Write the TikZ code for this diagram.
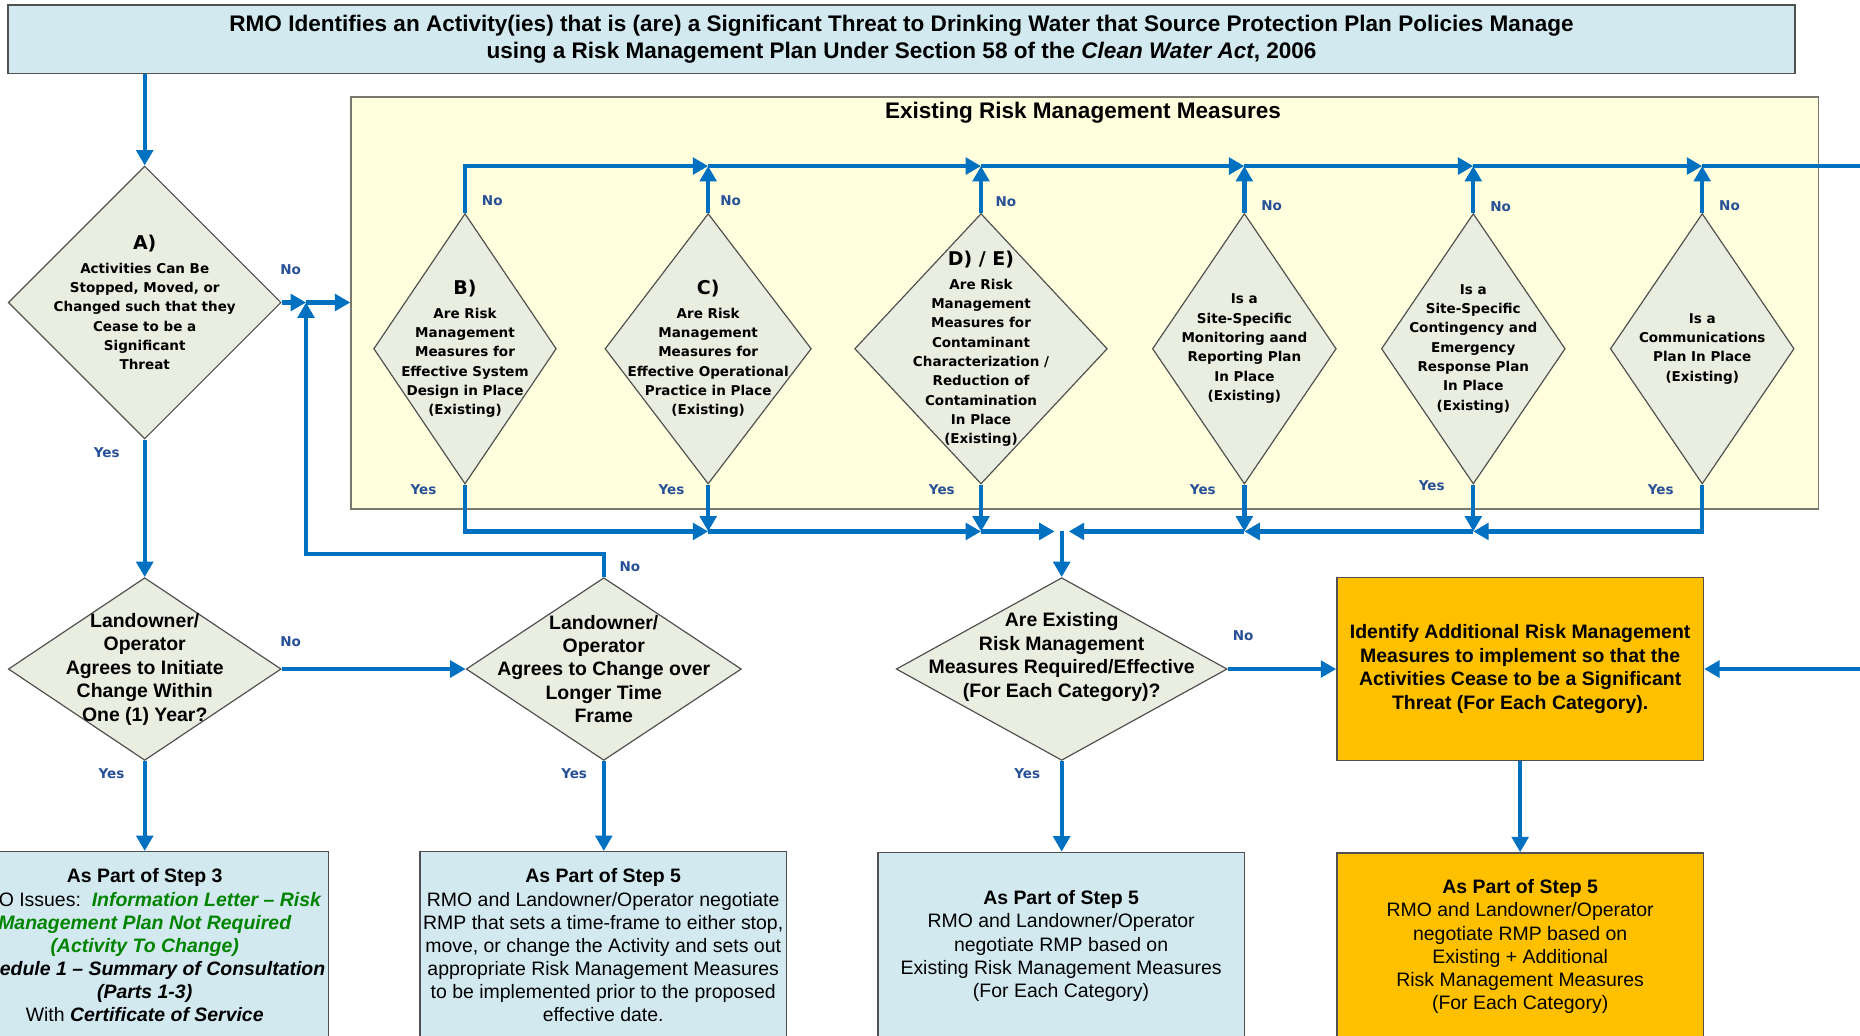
\documentclass[tikz,border=0pt]{standalone}
\usepackage{fontspec}
\setmainfont{Liberation Sans}
\newfontfamily\dvs{DejaVu Sans}
\usetikzlibrary{shapes.geometric,arrows.meta}

\definecolor{flowblue}{RGB}{0,112,192}
\definecolor{lblblue}{RGB}{40,80,150}
\definecolor{paleblue}{RGB}{210,233,240}
\definecolor{paleyellow}{RGB}{255,255,222}
\definecolor{dfill}{RGB}{234,238,224}
\definecolor{amber}{RGB}{255,192,0}
\definecolor{edgegray}{RGB}{80,80,80}
\definecolor{notegreen}{RGB}{0,132,0}

% larger letter heading inside a decision diamond
\newcommand\dhead[1]{{\fontsize{8}{10}\selectfont #1}}

\begin{document}
\begin{tikzpicture}[x=0.5pt,y=-0.5pt,
  flow/.style={draw=flowblue, line width=1.8pt, -{Triangle[length=6.5pt,width=7pt]}},
  wire/.style={draw=flowblue, line width=1.8pt},
  dmd/.style={shape=diamond, draw=edgegray, fill=dfill, line width=0.5pt, inner sep=0pt},
  dtxt/.style={align=center, font=\dvs\bfseries\fontsize{5.7}{8.15}\selectfont, inner sep=0pt},
  ntxt/.style={align=center, font=\bfseries\fontsize{8.2}{9.9}\selectfont, inner sep=0pt},
  yn/.style={font=\dvs\bfseries\fontsize{5.7}{7}\selectfont, text=lblblue, inner sep=0pt},
  infobox/.style={draw=edgegray, line width=0.6pt, inner sep=0pt, align=center,
    minimum width=154.5pt, minimum height=79pt, font=\fontsize{8.2}{9.75}\selectfont},
]
\useasboundingbox (0,0) rectangle (1568,873);
\clip (0,0) rectangle (1568,873);

% ---------- header ----------
\node[draw=edgegray, fill=paleblue, line width=0.7pt, minimum width=753pt, minimum height=29pt,
      inner sep=0pt, align=center, font=\bfseries\fontsize{9.5}{11.5}\selectfont] (title) at (760,33)
  {RMO Identifies an Activity(ies) that is (are) a Significant Threat to Drinking Water that Source Protection Plan Policies Manage\\
   using a Risk Management Plan Under Section 58 of the \textit{Clean Water Act}, 2006};

% ---------- existing measures panel ----------
\node[draw={rgb,255:red,120;green,120;blue,110}, fill=paleyellow, line width=0.7pt,
      minimum width=618.5pt, minimum height=173.5pt, inner sep=0pt] (rmm) at (914.5,255.5) {};
\node[font=\bfseries\fontsize{9.5}{11}\selectfont, inner sep=0pt] (rmmtitle) at (913,95) {Existing Risk Management Measures};

% ---------- decisions ----------
\node[dmd, minimum width=115pt, minimum height=115pt] (A) at (122,255) {};
\node[dtxt] (At) at (A.center) {\dhead{A)}\\[1.9pt]Activities Can Be\\Stopped, Moved, or\\Changed such that they\\Cease to be a\\Significant\\Threat};

\node[dmd, minimum width=77pt, minimum height=114pt] (B) at (392,294) {};
\node[dtxt] (Bt) at (B.center) {\dhead{B)}\\[1.9pt]Are Risk\\Management\\Measures for\\Effective System\\Design in Place\\(Existing)};

\node[dmd, minimum width=87pt, minimum height=114pt] (C) at (597,294) {};
\node[dtxt] (Ct) at (C.center) {\dhead{C)}\\[1.9pt]Are Risk\\Management\\Measures for\\Effective Operational\\Practice in Place\\(Existing)};

\node[dmd, minimum width=106.5pt, minimum height=114pt] (D) at (827,294) {};
\node[dtxt] (Dt) at (D.center) {\dhead{D) / E)}\\[1.9pt]Are Risk\\Management\\Measures for\\Contaminant\\Characterization /\\Reduction of\\Contamination\\In Place\\(Existing)};

\node[dmd, minimum width=77.5pt, minimum height=114pt] (S) at (1049,294) {};
\node[dtxt] (St) at (S.center) {Is a\\Site-Specific\\Monitoring aand\\Reporting Plan\\In Place\\(Existing)};

\node[dmd, minimum width=77.5pt, minimum height=114pt] (K) at (1242,294) {};
\node[dtxt] (Kt) at (K.center) {Is a\\Site-Specific\\Contingency and\\Emergency\\Response Plan\\In Place\\(Existing)};

\node[dmd, minimum width=77.5pt, minimum height=114pt] (M) at (1435,294) {};
\node[dtxt] (Mt) at (M.center) {Is a\\Communications\\Plan In Place\\(Existing)};

\node[dmd, minimum width=115pt, minimum height=77pt] (L1) at (122,564) {};
\node[ntxt] (L1t) at (L1.center) {Landowner/\\Operator\\Agrees to Initiate\\Change Within\\One (1) Year?};

\node[dmd, minimum width=116pt, minimum height=77pt] (L2) at (509,564) {};
\node[ntxt] (L2t) at (L2.center) {Landowner/\\Operator\\Agrees to Change over\\Longer Time\\Frame};

\node[dmd, minimum width=139.5pt, minimum height=77pt] (E) at (895,564) {};
\node[ntxt] (Et) at (895,554) {Are Existing\\Risk Management\\Measures Required/Effective\\(For Each Category)?};

\node[draw=edgegray, fill=amber, line width=0.6pt, minimum width=154.5pt, minimum height=77pt,
      inner sep=0pt, ntxt] (add) at (1281.5,564)
  {Identify Additional Risk Management\\Measures to implement so that the\\Activities Cease to be a Significant\\Threat (For Each Category).};

% ---------- outcomes ----------
\node[infobox, fill=paleblue, minimum width=155pt] (box1) at (122,797)
  {\textbf{As Part of Step 3}\\
   RMO Issues:\ \ {\color{notegreen}\bfseries\itshape Information Letter -- Risk}\\
   {\color{notegreen}\bfseries\itshape Management Plan Not Required}\\
   {\color{notegreen}\bfseries\itshape (Activity To Change)}\\
   {\bfseries\itshape Schedule 1 -- Summary of Consultation}\\
   {\bfseries\itshape (Parts 1-3)}\\
   With {\bfseries\itshape Certificate of Service}};

\node[infobox, fill=paleblue] (box2) at (508.5,797)
  {\textbf{As Part of Step 5}\\
   RMO and Landowner/Operator negotiate\\
   RMP that sets a time-frame to either stop,\\
   move, or change the Activity and sets out\\
   appropriate Risk Management Measures\\
   to be implemented prior to the proposed\\
   effective date.};

\node[infobox, fill=paleblue] (box3) at (894.5,797.5)
  {\textbf{As Part of Step 5}\\
   RMO and Landowner/Operator\\
   negotiate RMP based on\\
   Existing Risk Management Measures\\
   (For Each Category)};

\node[infobox, fill=amber] (box4) at (1281.5,798)
  {\textbf{As Part of Step 5}\\
   RMO and Landowner/Operator\\
   negotiate RMP based on\\
   Existing + Additional\\
   Risk Management Measures\\
   (For Each Category)};

% ---------- junction points ----------
\coordinate (jA) at (258,255);
\coordinate (fb) at (258,467);
\coordinate (tC) at (597,140);
\coordinate (tD) at (827,140);
\coordinate (tS) at (1049,140);
\coordinate (tK) at (1242,140);
\coordinate (tM) at (1435,140);
\coordinate (tEnd) at (1572,140);
\coordinate (bC) at (597,448);
\coordinate (bD) at (827,448);
\coordinate (bJ) at (895,448);
\coordinate (bS) at (1049,448);
\coordinate (bK) at (1242,448);
\coordinate (rIn) at (1572,564);

% ---------- connectors ----------
\draw[flow] (A.north |- title.south) -- (A.north);
\draw[flow] (A.east) -- (jA);
\draw[flow] (jA) -- (jA -| rmm.west);
\draw[flow] (A.south) -- (L1.north);
\draw[flow] (L1.east) -- (L2.west);
\draw[flow] (L2.north) |- (fb) -- (jA);
\draw[flow] (L1.south) -- (box1.north);
\draw[flow] (L2.south) -- (L2.south |- box2.north);

\draw[flow] (B.north) |- (tC);
\draw[flow] (C.north) -- (tC);
\draw[flow] (tC) -- (tD);
\draw[flow] (D.north) -- (tD);
\draw[flow] (tD) -- (tS);
\draw[flow] (S.north) -- (tS);
\draw[flow] (tS) -- (tK);
\draw[flow] (K.north) -- (tK);
\draw[flow] (tK) -- (tM);
\draw[flow] (M.north) -- (tM);
\draw[wire] (tM) -- (tEnd);

\draw[flow] (B.south) |- (bC);
\draw[flow] (C.south) -- (bC);
\draw[flow] (bC) -- (bD);
\draw[flow] (D.south) -- (bD);
\draw[flow, shorten >=3pt] (bD) -- (bJ);
\draw[flow] (M.south) |- (bK);
\draw[flow] (K.south) -- (bK);
\draw[flow] (bK) -- (bS);
\draw[flow] (S.south) -- (bS);
\draw[flow, shorten >=3pt] (bS) -- (bJ);
\draw[flow] (bJ) -- (E.north);

\draw[flow] (E.east) -- (add.west);
\draw[flow] (E.south) -- (E.south |- box3.north);
\draw[flow] (add.south) -- (box4.north);
\draw[flow] (rIn) -- (add.east);

% ---------- Yes / No labels ----------
\node[yn] (nA) at (245,227) {No};
\node[yn] (yA) at (90,382) {Yes};
\node[yn] (nL1) at (245,541) {No};
\node[yn] (yL1) at (94,652) {Yes};
\node[yn] (nL2) at (531,478) {No};
\node[yn] (yL2) at (484,652) {Yes};
\node[yn] (nB) at (415,169) {No};
\node[yn] (yB) at (357,413) {Yes};
\node[yn] (nC) at (616,169) {No};
\node[yn] (yC) at (566,413) {Yes};
\node[yn] (nD) at (848,170) {No};
\node[yn] (yD) at (794,413) {Yes};
\node[yn] (nS) at (1072,173) {No};
\node[yn] (yS) at (1014,413) {Yes};
\node[yn] (nK) at (1265,174) {No};
\node[yn] (yK) at (1207,409) {Yes};
\node[yn] (nM) at (1458,173) {No};
\node[yn] (yM) at (1400,413) {Yes};
\node[yn] (nE) at (1048,536) {No};
\node[yn] (yE) at (866,652) {Yes};
\end{tikzpicture}
\end{document}
